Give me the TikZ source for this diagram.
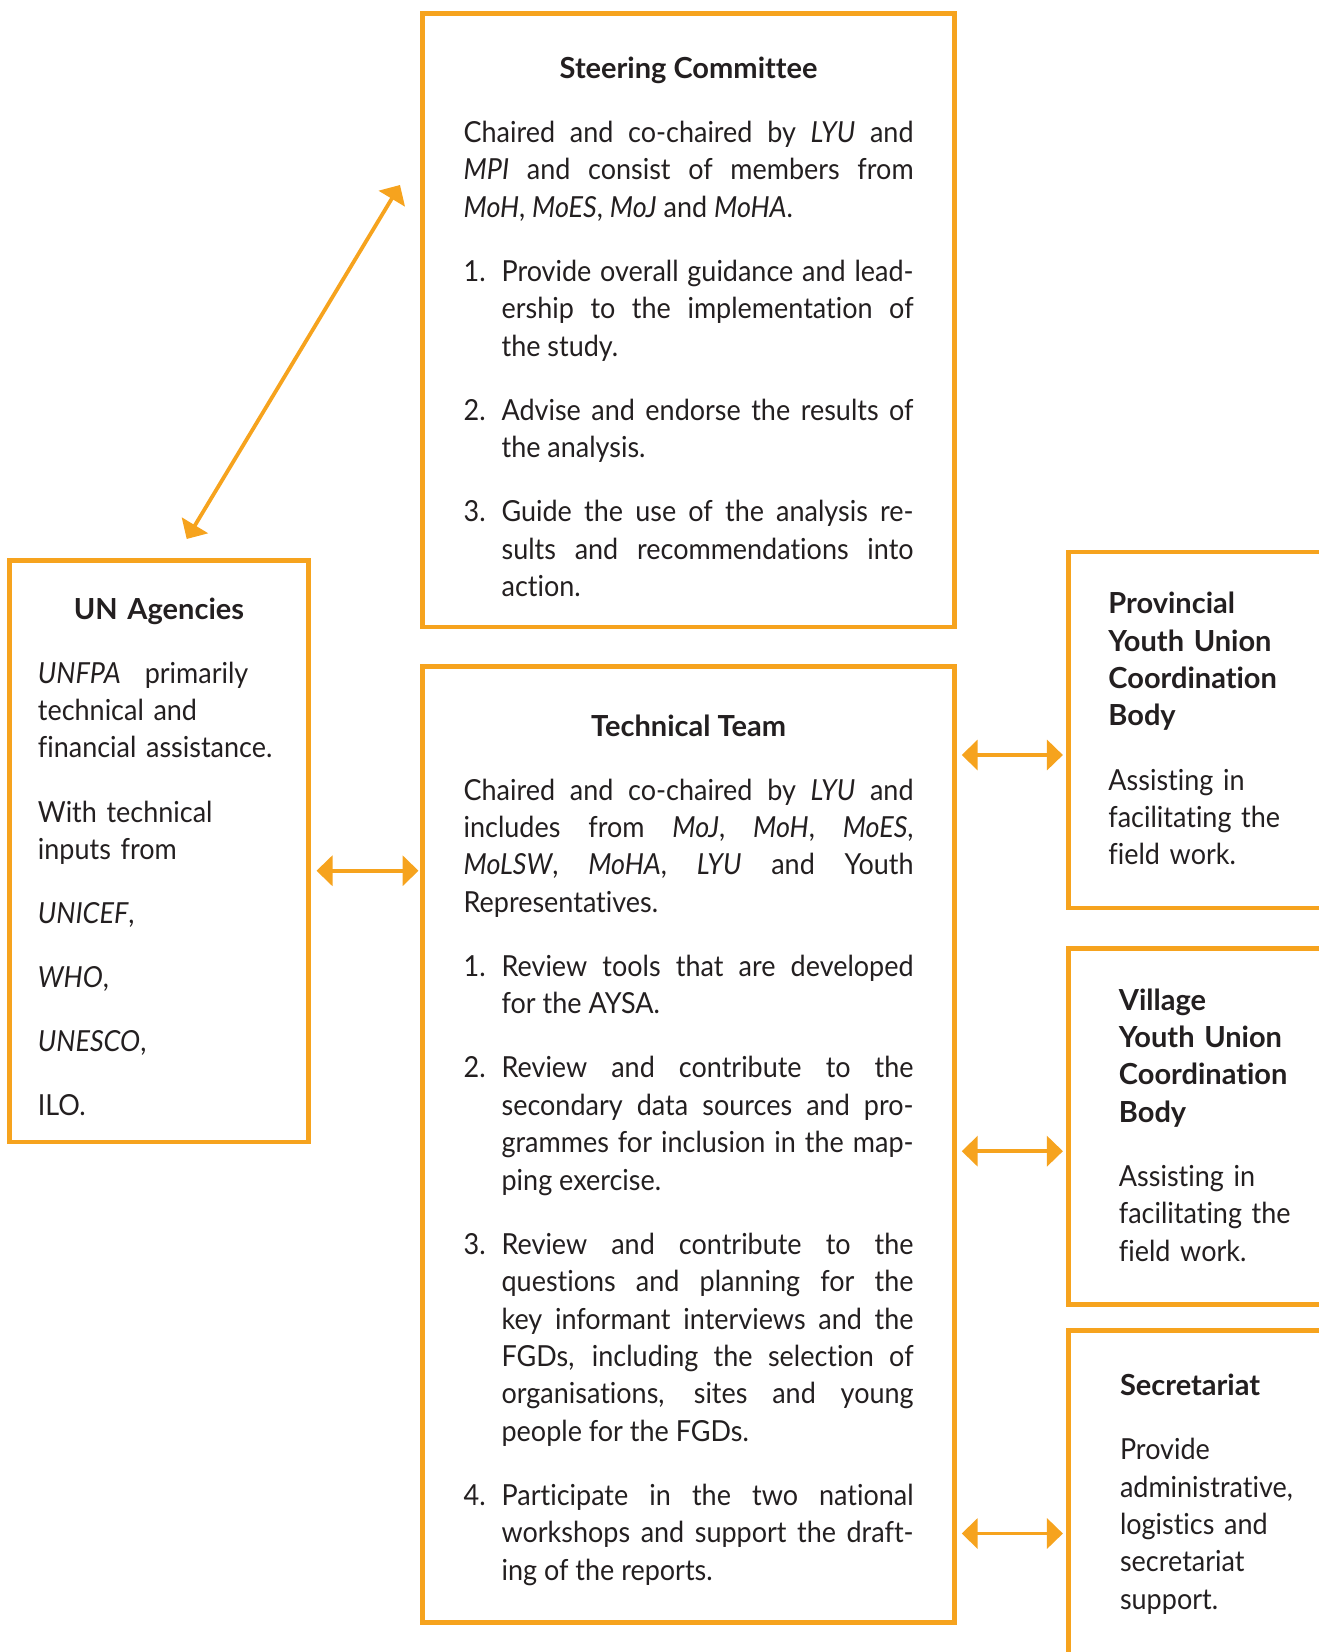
\documentclass[tikz,border=0pt]{standalone}
\usepackage{fontspec}
\setmainfont{Lato}[Ligatures=NoCommon,
                   UprightFeatures={FakeStretch=0.93},
                   ItalicFeatures={FakeStretch=0.93}]
\usepackage{xcolor}
\usetikzlibrary{arrows.meta, calc}

\definecolor{frameorange}{RGB}{246,163,30}
\definecolor{inkgray}{RGB}{35,31,32}

\newcommand{\pgap}{\par\vspace{13.35pt}}
\newcommand{\itm}[2]{\par\hangindent=19pt\hangafter=1\noindent\makebox[19pt][l]{#1}#2\par}
\newcommand{\hd}[1]{{\centering\bfseries #1\par}}

\tolerance=9999
\hbadness=10000
\hyphenpenalty=10000

\begin{document}
\begin{tikzpicture}[x=0.5pt, y=-0.5pt,
  font=\fontsize{14.5}{18.7}\selectfont, text=inkgray,
  bx/.style={draw=frameorange, line width=2.35pt, anchor=north west,
             inner ysep=0pt, outer sep=0pt},
  ar/.style={{Triangle[length=8pt,width=15pt]}-{Triangle[length=8pt,width=15pt]},
             draw=frameorange, line width=1.9pt}]
\useasboundingbox (0,0) rectangle (1318,1652);

% steering committee
\node[bx, text width=225pt, inner xsep=20.55pt, align=justify,
      text height=32.4pt, text depth=274.25pt] (sc) at (422.5,13.7) {%
  \hd{Steering Committee}\pgap
  Chaired and co-chaired by \textit{LYU} and\linebreak
  \textit{MPI} and consist of members from\linebreak
  \textit{MoH}, \textit{MoES}, \textit{MoJ} and \textit{MoHA}.\pgap
  \itm{1.}{Provide overall guidance and lead-\linebreak ership to the
    implementation of\linebreak the study.}\pgap
  \itm{2.}{Advise and endorse the results of\linebreak the analysis.}\pgap
  \itm{3.}{Guide the use of the analysis re-\linebreak sults and
    recommendations into\linebreak action.}};

% technical team
\node[bx, text width=225pt, inner xsep=20.55pt, align=justify,
      text height=34.65pt, text depth=443.25pt] (tt) at (422.5,666.7) {%
  \hd{Technical Team}\pgap
  Chaired and co-chaired by \textit{LYU} and\linebreak
  includes from \textit{MoJ}, \textit{MoH}, \textit{MoES},\linebreak
  \textit{MoLSW}, \textit{MoHA}, \textit{LYU} and Youth\linebreak
  Representatives.\pgap
  \itm{1.}{Review tools that are developed\linebreak for the AYSA.}\pgap
  \itm{2.}{Review and contribute to the\linebreak secondary data sources
    and pro-\linebreak grammes for inclusion in the map-\linebreak ping
    exercise.}\pgap
  \itm{3.}{Review and contribute to the\linebreak questions and planning
    for the\linebreak key informant interviews and the\linebreak FGDs,
    including the selection of\linebreak organisations, sites and
    young\linebreak people for the FGDs.}\pgap
  \itm{4.}{Participate in the two national\linebreak workshops and support
    the draft-\linebreak ing of the reports.}};

% un agencies
\node[bx, text width=121.1pt, inner xsep=14.2pt, align=left,
      text height=29.25pt, text depth=261.5pt] (un) at (9.5,560.5) {%
  \hd{UN Agencies}\pgap
  \textit{UNFPA}\hspace{12pt}primarily\\ technical and\\
  financial assistance.\pgap
  With technical\\ inputs from\pgap
  \textit{UNICEF},\pgap
  \textit{WHO},\pgap
  \textit{UNESCO},\pgap
  ILO.};

% right column
\node[bx, text width=140pt, inner xsep=20pt, align=left,
      text height=30.85pt, text depth=147.15pt] (pv) at (1068.4,552) {%
  \textbf{Provincial\\ Youth Union\\ Coordination\\ Body}\pgap
  Assisting in\\ facilitating the\\ field work.};
\node[bx, text width=140pt, inner xsep=25.25pt, align=left,
      text height=30.9pt, text depth=147.2pt] (vl) at (1068.4,948.2) {%
  \textbf{Village\\ Youth Union\\ Coordination\\ Body}\pgap
  Assisting in\\ facilitating the\\ field work.};
\node[bx, text width=140pt, inner xsep=25.8pt, align=left,
      text height=32.5pt, text depth=170pt] (se) at (1068.4,1330.5) {%
  \textbf{Secretariat}\pgap
  Provide\\ administrative,\\ logistics and\\ secretariat\\ support.};

% links
\draw[ar] ($(un.north west)+(177.2,-21.5)$) -- ($(sc.north west)+(-22.5,171.3)$);
\draw[ar] ($(un.east)+(8,19.5)$) -- ($(tt.west |- un.east)+(-4,19.5)$);
\foreach \b in {pv,vl,se}
  \draw[ar] ($(tt.east |- \b.north)+(7,203)$) -- ($(\b.north west)+(-5.5,203)$);
\end{tikzpicture}
\end{document}
